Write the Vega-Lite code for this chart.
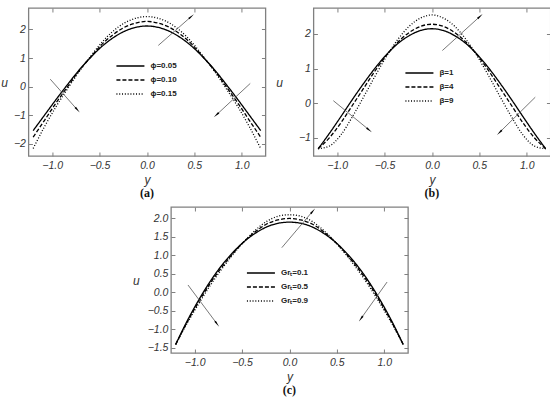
{
  "$schema": "https://vega.github.io/schema/vega-lite/v6.json",
  "background": "white",
  "padding": {"left": 0, "top": 6, "right": 2, "bottom": 2},
  "datasets": {
    "phi": [
      {"series": "ϕ=0.05", "y": -1.2, "u": -1.54}, {"series": "ϕ=0.05", "y": -1.08, "u": -1.0}, {"series": "ϕ=0.05", "y": -0.96, "u": -0.46},
      {"series": "ϕ=0.05", "y": -0.84, "u": 0.06}, {"series": "ϕ=0.05", "y": -0.72, "u": 0.56}, {"series": "ϕ=0.05", "y": -0.6, "u": 1.0},
      {"series": "ϕ=0.05", "y": -0.48, "u": 1.39}, {"series": "ϕ=0.05", "y": -0.36, "u": 1.7}, {"series": "ϕ=0.05", "y": -0.24, "u": 1.93},
      {"series": "ϕ=0.05", "y": -0.12, "u": 2.07}, {"series": "ϕ=0.05", "y": 0, "u": 2.12}, {"series": "ϕ=0.05", "y": 0.12, "u": 2.07},
      {"series": "ϕ=0.05", "y": 0.24, "u": 1.93}, {"series": "ϕ=0.05", "y": 0.36, "u": 1.7}, {"series": "ϕ=0.05", "y": 0.48, "u": 1.39},
      {"series": "ϕ=0.05", "y": 0.6, "u": 1.0}, {"series": "ϕ=0.05", "y": 0.72, "u": 0.56}, {"series": "ϕ=0.05", "y": 0.84, "u": 0.06},
      {"series": "ϕ=0.05", "y": 0.96, "u": -0.46}, {"series": "ϕ=0.05", "y": 1.08, "u": -1.0}, {"series": "ϕ=0.05", "y": 1.2, "u": -1.54},
      {"series": "ϕ=0.10", "y": -1.2, "u": -1.77}, {"series": "ϕ=0.10", "y": -1.08, "u": -1.18}, {"series": "ϕ=0.10", "y": -0.96, "u": -0.58},
      {"series": "ϕ=0.10", "y": -0.84, "u": -0.02}, {"series": "ϕ=0.10", "y": -0.72, "u": 0.53}, {"series": "ϕ=0.10", "y": -0.6, "u": 1.01},
      {"series": "ϕ=0.10", "y": -0.48, "u": 1.46}, {"series": "ϕ=0.10", "y": -0.36, "u": 1.81}, {"series": "ϕ=0.10", "y": -0.24, "u": 2.07},
      {"series": "ϕ=0.10", "y": -0.12, "u": 2.22}, {"series": "ϕ=0.10", "y": 0, "u": 2.28}, {"series": "ϕ=0.10", "y": 0.12, "u": 2.22},
      {"series": "ϕ=0.10", "y": 0.24, "u": 2.07}, {"series": "ϕ=0.10", "y": 0.36, "u": 1.81}, {"series": "ϕ=0.10", "y": 0.48, "u": 1.46},
      {"series": "ϕ=0.10", "y": 0.6, "u": 1.01}, {"series": "ϕ=0.10", "y": 0.72, "u": 0.53}, {"series": "ϕ=0.10", "y": 0.84, "u": -0.02},
      {"series": "ϕ=0.10", "y": 0.96, "u": -0.58}, {"series": "ϕ=0.10", "y": 1.08, "u": -1.18}, {"series": "ϕ=0.10", "y": 1.2, "u": -1.77},
      {"series": "ϕ=0.15", "y": -1.2, "u": -2.17}, {"series": "ϕ=0.15", "y": -1.08, "u": -1.4}, {"series": "ϕ=0.15", "y": -0.96, "u": -0.71},
      {"series": "ϕ=0.15", "y": -0.84, "u": -0.09}, {"series": "ϕ=0.15", "y": -0.72, "u": 0.5}, {"series": "ϕ=0.15", "y": -0.6, "u": 1.03},
      {"series": "ϕ=0.15", "y": -0.48, "u": 1.53}, {"series": "ϕ=0.15", "y": -0.36, "u": 1.93}, {"series": "ϕ=0.15", "y": -0.24, "u": 2.22},
      {"series": "ϕ=0.15", "y": -0.12, "u": 2.39}, {"series": "ϕ=0.15", "y": 0, "u": 2.45}, {"series": "ϕ=0.15", "y": 0.12, "u": 2.39},
      {"series": "ϕ=0.15", "y": 0.24, "u": 2.22}, {"series": "ϕ=0.15", "y": 0.36, "u": 1.93}, {"series": "ϕ=0.15", "y": 0.48, "u": 1.53},
      {"series": "ϕ=0.15", "y": 0.6, "u": 1.03}, {"series": "ϕ=0.15", "y": 0.72, "u": 0.5}, {"series": "ϕ=0.15", "y": 0.84, "u": -0.09},
      {"series": "ϕ=0.15", "y": 0.96, "u": -0.71}, {"series": "ϕ=0.15", "y": 1.08, "u": -1.4}, {"series": "ϕ=0.15", "y": 1.2, "u": -2.17}
    ],
    "beta": [
      {"series": "β=1", "y": -1.2, "u": -1.32}, {"series": "β=1", "y": -1.08, "u": -0.87}, {"series": "β=1", "y": -0.96, "u": -0.39},
      {"series": "β=1", "y": -0.84, "u": 0.1}, {"series": "β=1", "y": -0.72, "u": 0.57}, {"series": "β=1", "y": -0.6, "u": 1.01},
      {"series": "β=1", "y": -0.48, "u": 1.4}, {"series": "β=1", "y": -0.36, "u": 1.72}, {"series": "β=1", "y": -0.24, "u": 1.95},
      {"series": "β=1", "y": -0.12, "u": 2.1}, {"series": "β=1", "y": 0, "u": 2.15}, {"series": "β=1", "y": 0.12, "u": 2.1},
      {"series": "β=1", "y": 0.24, "u": 1.95}, {"series": "β=1", "y": 0.36, "u": 1.72}, {"series": "β=1", "y": 0.48, "u": 1.4},
      {"series": "β=1", "y": 0.6, "u": 1.01}, {"series": "β=1", "y": 0.72, "u": 0.57}, {"series": "β=1", "y": 0.84, "u": 0.1},
      {"series": "β=1", "y": 0.96, "u": -0.39}, {"series": "β=1", "y": 1.08, "u": -0.87}, {"series": "β=1", "y": 1.2, "u": -1.32},
      {"series": "β=4", "y": -1.2, "u": -1.32}, {"series": "β=4", "y": -1.08, "u": -1.0}, {"series": "β=4", "y": -0.96, "u": -0.57},
      {"series": "β=4", "y": -0.84, "u": -0.07}, {"series": "β=4", "y": -0.72, "u": 0.43}, {"series": "β=4", "y": -0.6, "u": 0.93},
      {"series": "β=4", "y": -0.48, "u": 1.38}, {"series": "β=4", "y": -0.36, "u": 1.76}, {"series": "β=4", "y": -0.24, "u": 2.04},
      {"series": "β=4", "y": -0.12, "u": 2.22}, {"series": "β=4", "y": 0, "u": 2.28}, {"series": "β=4", "y": 0.12, "u": 2.22},
      {"series": "β=4", "y": 0.24, "u": 2.04}, {"series": "β=4", "y": 0.36, "u": 1.76}, {"series": "β=4", "y": 0.48, "u": 1.38},
      {"series": "β=4", "y": 0.6, "u": 0.93}, {"series": "β=4", "y": 0.72, "u": 0.43}, {"series": "β=4", "y": 0.84, "u": -0.07},
      {"series": "β=4", "y": 0.96, "u": -0.57}, {"series": "β=4", "y": 1.08, "u": -1.0}, {"series": "β=4", "y": 1.2, "u": -1.32},
      {"series": "β=9", "y": -1.2, "u": -1.32}, {"series": "β=9", "y": -1.08, "u": -1.24}, {"series": "β=9", "y": -0.96, "u": -0.92},
      {"series": "β=9", "y": -0.84, "u": -0.4}, {"series": "β=9", "y": -0.72, "u": 0.18}, {"series": "β=9", "y": -0.6, "u": 0.78},
      {"series": "β=9", "y": -0.48, "u": 1.35}, {"series": "β=9", "y": -0.36, "u": 1.84}, {"series": "β=9", "y": -0.24, "u": 2.22},
      {"series": "β=9", "y": -0.12, "u": 2.46}, {"series": "β=9", "y": 0, "u": 2.55}, {"series": "β=9", "y": 0.12, "u": 2.46},
      {"series": "β=9", "y": 0.24, "u": 2.22}, {"series": "β=9", "y": 0.36, "u": 1.84}, {"series": "β=9", "y": 0.48, "u": 1.35},
      {"series": "β=9", "y": 0.6, "u": 0.78}, {"series": "β=9", "y": 0.72, "u": 0.18}, {"series": "β=9", "y": 0.84, "u": -0.4},
      {"series": "β=9", "y": 0.96, "u": -0.92}, {"series": "β=9", "y": 1.08, "u": -1.24}, {"series": "β=9", "y": 1.2, "u": -1.32}
    ],
    "gr": [
      {"series": "Grₜ=0.1", "y": -1.2, "u": -1.41}, {"series": "Grₜ=0.1", "y": -1.08, "u": -0.78}, {"series": "Grₜ=0.1", "y": -0.96, "u": -0.22},
      {"series": "Grₜ=0.1", "y": -0.84, "u": 0.28}, {"series": "Grₜ=0.1", "y": -0.72, "u": 0.71}, {"series": "Grₜ=0.1", "y": -0.6, "u": 1.07},
      {"series": "Grₜ=0.1", "y": -0.48, "u": 1.37}, {"series": "Grₜ=0.1", "y": -0.36, "u": 1.6}, {"series": "Grₜ=0.1", "y": -0.24, "u": 1.77},
      {"series": "Grₜ=0.1", "y": -0.12, "u": 1.87}, {"series": "Grₜ=0.1", "y": 0, "u": 1.9}, {"series": "Grₜ=0.1", "y": 0.12, "u": 1.87},
      {"series": "Grₜ=0.1", "y": 0.24, "u": 1.77}, {"series": "Grₜ=0.1", "y": 0.36, "u": 1.6}, {"series": "Grₜ=0.1", "y": 0.48, "u": 1.37},
      {"series": "Grₜ=0.1", "y": 0.6, "u": 1.07}, {"series": "Grₜ=0.1", "y": 0.72, "u": 0.71}, {"series": "Grₜ=0.1", "y": 0.84, "u": 0.28},
      {"series": "Grₜ=0.1", "y": 0.96, "u": -0.22}, {"series": "Grₜ=0.1", "y": 1.08, "u": -0.78}, {"series": "Grₜ=0.1", "y": 1.2, "u": -1.41},
      {"series": "Grₜ=0.5", "y": -1.2, "u": -1.41}, {"series": "Grₜ=0.5", "y": -1.08, "u": -0.81}, {"series": "Grₜ=0.5", "y": -0.96, "u": -0.27},
      {"series": "Grₜ=0.5", "y": -0.84, "u": 0.23}, {"series": "Grₜ=0.5", "y": -0.72, "u": 0.66}, {"series": "Grₜ=0.5", "y": -0.6, "u": 1.04},
      {"series": "Grₜ=0.5", "y": -0.48, "u": 1.37}, {"series": "Grₜ=0.5", "y": -0.36, "u": 1.64}, {"series": "Grₜ=0.5", "y": -0.24, "u": 1.85},
      {"series": "Grₜ=0.5", "y": -0.12, "u": 1.96}, {"series": "Grₜ=0.5", "y": 0, "u": 2.0}, {"series": "Grₜ=0.5", "y": 0.12, "u": 1.96},
      {"series": "Grₜ=0.5", "y": 0.24, "u": 1.85}, {"series": "Grₜ=0.5", "y": 0.36, "u": 1.64}, {"series": "Grₜ=0.5", "y": 0.48, "u": 1.37},
      {"series": "Grₜ=0.5", "y": 0.6, "u": 1.04}, {"series": "Grₜ=0.5", "y": 0.72, "u": 0.66}, {"series": "Grₜ=0.5", "y": 0.84, "u": 0.23},
      {"series": "Grₜ=0.5", "y": 0.96, "u": -0.27}, {"series": "Grₜ=0.5", "y": 1.08, "u": -0.81}, {"series": "Grₜ=0.5", "y": 1.2, "u": -1.41},
      {"series": "Grₜ=0.9", "y": -1.2, "u": -1.41}, {"series": "Grₜ=0.9", "y": -1.08, "u": -0.84}, {"series": "Grₜ=0.9", "y": -0.96, "u": -0.32},
      {"series": "Grₜ=0.9", "y": -0.84, "u": 0.17}, {"series": "Grₜ=0.9", "y": -0.72, "u": 0.61}, {"series": "Grₜ=0.9", "y": -0.6, "u": 1.01},
      {"series": "Grₜ=0.9", "y": -0.48, "u": 1.37}, {"series": "Grₜ=0.9", "y": -0.36, "u": 1.68}, {"series": "Grₜ=0.9", "y": -0.24, "u": 1.92},
      {"series": "Grₜ=0.9", "y": -0.12, "u": 2.06}, {"series": "Grₜ=0.9", "y": 0, "u": 2.1}, {"series": "Grₜ=0.9", "y": 0.12, "u": 2.06},
      {"series": "Grₜ=0.9", "y": 0.24, "u": 1.92}, {"series": "Grₜ=0.9", "y": 0.36, "u": 1.68}, {"series": "Grₜ=0.9", "y": 0.48, "u": 1.37},
      {"series": "Grₜ=0.9", "y": 0.6, "u": 1.01}, {"series": "Grₜ=0.9", "y": 0.72, "u": 0.61}, {"series": "Grₜ=0.9", "y": 0.84, "u": 0.17},
      {"series": "Grₜ=0.9", "y": 0.96, "u": -0.32}, {"series": "Grₜ=0.9", "y": 1.08, "u": -0.84}, {"series": "Grₜ=0.9", "y": 1.2, "u": -1.41}
    ],
    "arrows": [
      {"panel": "a", "y": 0.12, "u": 1.44, "y_end": 0.46, "u_end": 2.43},
      {"panel": "a", "y": -1.02, "u": 0.26, "y_end": -0.74, "u_end": -0.79},
      {"panel": "a", "y": 1.09, "u": 0.11, "y_end": 0.74, "u_end": -0.97},
      {"panel": "b", "y": 0.11, "u": 1.52, "y_end": 0.5, "u_end": 2.49},
      {"panel": "b", "y": -1.04, "u": 0.07, "y_end": -0.67, "u_end": -0.76},
      {"panel": "b", "y": 1.09, "u": 0.17, "y_end": 0.72, "u_end": -0.83},
      {"panel": "c", "y": -0.08, "u": 1.21, "y_end": 0.24, "u_end": 2.18},
      {"panel": "c", "y": -1.07, "u": 0.2, "y_end": -0.77, "u_end": -0.83},
      {"panel": "c", "y": 1.03, "u": 0.28, "y_end": 0.76, "u_end": -0.69}
    ]
  },
  "vconcat": [
    {
      "hconcat": [
        {
          "width": 237,
          "height": 148,
          "title": {"text": "(a)", "orient": "bottom", "offset": 2},
          "resolve": {"axis": {"x": "independent", "y": "independent"}},
          "layer": [
            {
              "data": {"name": "phi"},
              "mark": {"type": "line", "color": "black", "strokeWidth": 1.3, "interpolate": "monotone"},
              "encoding": {
                "x": {"field": "y", "type": "quantitative", "title": "y", "scale": {"domain": [-1.25, 1.25], "nice": false, "zero": false}, "axis": {"values": [-1, -0.5, 0, 0.5, 1], "format": ".1f", "labelOverlap": false}},
                "y": {"field": "u", "type": "quantitative", "title": "u", "scale": {"domain": [-2.43, 2.75], "nice": false, "zero": false}, "axis": {"values": [-2, -1, 0, 1, 2], "format": "d", "titlePadding": 6, "labelOverlap": false}},
                "strokeDash": {
                  "field": "series", "type": "nominal",
                  "scale": {"domain": ["ϕ=0.05", "ϕ=0.10", "ϕ=0.15"], "range": [[1, 0], [4, 2], [1, 1.8]]},
                  "legend": {"orient": "none", "legendX": 94, "legendY": 50}
                }
              }
            },
            {
              "data": {"name": "phi"},
              "mark": {"type": "point", "opacity": 0},
              "encoding": {
                "x": {"field": "y", "type": "quantitative", "axis": {"orient": "top", "labels": false, "title": null, "values": [-1, -0.5, 0, 0.5, 1]}},
                "y": {"field": "u", "type": "quantitative", "axis": {"orient": "right", "labels": false, "title": null, "values": [-2, -1, 0, 1, 2]}}
              }
            },
            {
              "data": {"name": "arrows"},
              "transform": [{"filter": "datum.panel == 'a'"}],
              "mark": {"type": "rule", "color": "#555555", "strokeWidth": 0.8},
              "encoding": {
                "x": {"field": "y", "type": "quantitative", "axis": null},
                "y": {"field": "u", "type": "quantitative", "axis": null},
                "x2": {"field": "y_end"},
                "y2": {"field": "u_end"}
              }
            },
            {
              "data": {"name": "arrows"},
              "transform": [
                {"filter": "datum.panel == 'a'"},
                {"calculate": "atan2((datum.y_end - datum.y) * 94.8, (datum.u_end - datum.u) * 28.4) * 180 / PI", "as": "heading"}
              ],
              "mark": {"type": "point", "shape": "wedge", "filled": true, "color": "black", "size": 60, "opacity": 1},
              "encoding": {
                "x": {"field": "y_end", "type": "quantitative", "axis": null},
                "y": {"field": "u_end", "type": "quantitative", "axis": null},
                "angle": {"field": "heading", "type": "quantitative", "scale": null}
              }
            }
          ]
        },
        {
          "width": 237,
          "height": 148,
          "title": {"text": "(b)", "orient": "bottom", "offset": 2},
          "resolve": {"axis": {"x": "independent", "y": "independent"}},
          "layer": [
            {
              "data": {"name": "beta"},
              "mark": {"type": "line", "color": "black", "strokeWidth": 1.3, "interpolate": "monotone"},
              "encoding": {
                "x": {"field": "y", "type": "quantitative", "title": "y", "scale": {"domain": [-1.25, 1.25], "nice": false, "zero": false}, "axis": {"values": [-1, -0.5, 0, 0.5, 1], "format": ".1f", "labelOverlap": false}},
                "y": {"field": "u", "type": "quantitative", "title": "u", "scale": {"domain": [-1.53, 2.75], "nice": false, "zero": false}, "axis": {"values": [-1, 0, 1, 2], "format": "d", "titlePadding": 16, "labelOverlap": false}},
                "strokeDash": {
                  "field": "series", "type": "nominal",
                  "scale": {"domain": ["β=1", "β=4", "β=9"], "range": [[1, 0], [4, 2], [1, 1.8]]},
                  "legend": {"orient": "none", "legendX": 98, "legendY": 57}
                }
              }
            },
            {
              "data": {"name": "beta"},
              "mark": {"type": "point", "opacity": 0},
              "encoding": {
                "x": {"field": "y", "type": "quantitative", "axis": {"orient": "top", "labels": false, "title": null, "values": [-1, -0.5, 0, 0.5, 1]}},
                "y": {"field": "u", "type": "quantitative", "axis": {"orient": "right", "labels": false, "title": null, "values": [-1, 0, 1, 2]}}
              }
            },
            {
              "data": {"name": "arrows"},
              "transform": [{"filter": "datum.panel == 'b'"}],
              "mark": {"type": "rule", "color": "#555555", "strokeWidth": 0.8},
              "encoding": {
                "x": {"field": "y", "type": "quantitative", "axis": null},
                "y": {"field": "u", "type": "quantitative", "axis": null},
                "x2": {"field": "y_end"},
                "y2": {"field": "u_end"}
              }
            },
            {
              "data": {"name": "arrows"},
              "transform": [
                {"filter": "datum.panel == 'b'"},
                {"calculate": "atan2((datum.y_end - datum.y) * 94.8, (datum.u_end - datum.u) * 34.3) * 180 / PI", "as": "heading"}
              ],
              "mark": {"type": "point", "shape": "wedge", "filled": true, "color": "black", "size": 60, "opacity": 1},
              "encoding": {
                "x": {"field": "y_end", "type": "quantitative", "axis": null},
                "y": {"field": "u_end", "type": "quantitative", "axis": null},
                "angle": {"field": "heading", "type": "quantitative", "scale": null}
              }
            }
          ]
        }
      ],
      "spacing": 7,
      "resolve": {"scale": {"strokeDash": "independent"}, "legend": {"strokeDash": "independent"}}
    },
    {
      "width": 237,
      "height": 146,
      "title": {"text": "(c)", "orient": "bottom", "offset": 2},
      "resolve": {"axis": {"x": "independent", "y": "independent"}},
      "layer": [
        {
          "data": {"name": "gr"},
          "mark": {"type": "line", "color": "black", "strokeWidth": 1.3, "interpolate": "monotone"},
          "encoding": {
            "x": {"field": "y", "type": "quantitative", "title": "y", "scale": {"domain": [-1.25, 1.25], "nice": false, "zero": false}, "axis": {"values": [-1, -0.5, 0, 0.5, 1], "format": ".1f", "labelOverlap": false}},
            "y": {"field": "u", "type": "quantitative", "title": "u", "scale": {"domain": [-1.64, 2.31], "nice": false, "zero": false}, "axis": {"values": [-1.5, -1, -0.5, 0, 0.5, 1, 1.5, 2], "format": ".1f", "titlePadding": 8, "labelOverlap": false}},
            "strokeDash": {
              "field": "series", "type": "nominal",
              "scale": {"domain": ["Grₜ=0.1", "Grₜ=0.5", "Grₜ=0.9"], "range": [[1, 0], [4, 2], [1, 1.8]]},
              "legend": {"orient": "none", "legendX": 82, "legendY": 58}
            }
          }
        },
        {
          "data": {"name": "gr"},
          "mark": {"type": "point", "opacity": 0},
          "encoding": {
            "x": {"field": "y", "type": "quantitative", "axis": {"orient": "top", "labels": false, "title": null, "values": [-1, -0.5, 0, 0.5, 1]}},
            "y": {"field": "u", "type": "quantitative", "axis": {"orient": "right", "labels": false, "title": null, "values": [-1.5, -1, -0.5, 0, 0.5, 1, 1.5, 2]}}
          }
        },
        {
          "data": {"name": "arrows"},
          "transform": [{"filter": "datum.panel == 'c'"}],
          "mark": {"type": "rule", "color": "#555555", "strokeWidth": 0.8},
          "encoding": {
            "x": {"field": "y", "type": "quantitative", "axis": null},
            "y": {"field": "u", "type": "quantitative", "axis": null},
            "x2": {"field": "y_end"},
            "y2": {"field": "u_end"}
          }
        },
        {
          "data": {"name": "arrows"},
          "transform": [
            {"filter": "datum.panel == 'c'"},
            {"calculate": "atan2((datum.y_end - datum.y) * 94.8, (datum.u_end - datum.u) * 37) * 180 / PI", "as": "heading"}
          ],
          "mark": {"type": "point", "shape": "wedge", "filled": true, "color": "black", "size": 60, "opacity": 1},
          "encoding": {
            "x": {"field": "y_end", "type": "quantitative", "axis": null},
            "y": {"field": "u_end", "type": "quantitative", "axis": null},
            "angle": {"field": "heading", "type": "quantitative", "scale": null}
          }
        }
      ]
    }
  ],
  "spacing": 5,
  "center": true,
  "resolve": {"scale": {"strokeDash": "independent"}, "legend": {"strokeDash": "independent"}},
  "config": {
    "font": "Liberation Sans",
    "view": {"stroke": "#808080", "strokeWidth": 1.3},
    "axis": {
      "grid": false,
      "domain": false,
      "tickColor": "#808080",
      "tickSize": -4,
      "tickWidth": 1,
      "labelOverlap": false,
      "labelFont": "Liberation Sans",
      "labelFontStyle": "italic",
      "labelFontSize": 10.5,
      "labelColor": "#333333",
      "titleFont": "Liberation Sans",
      "titleFontStyle": "italic",
      "titleFontWeight": "normal",
      "titleFontSize": 12,
      "titleColor": "#333333"
    },
    "axisX": {"labelPadding": 8, "titlePadding": 4},
    "axisY": {"labelPadding": 7, "titleAngle": 0, "titleAlign": "right", "titleBaseline": "middle"},
    "legend": {
      "title": null,
      "padding": 0,
      "symbolType": "M-2,0H2",
      "symbolSize": 196,
      "symbolStrokeWidth": 1.4,
      "symbolStrokeColor": "black",
      "labelFont": "Liberation Sans",
      "labelFontWeight": "bold",
      "labelFontSize": 8,
      "labelColor": "#222222",
      "labelOffset": 12,
      "rowPadding": 2
    },
    "title": {"font": "Liberation Serif", "fontSize": 12, "fontWeight": "bold", "color": "#111111"}
  }
}
